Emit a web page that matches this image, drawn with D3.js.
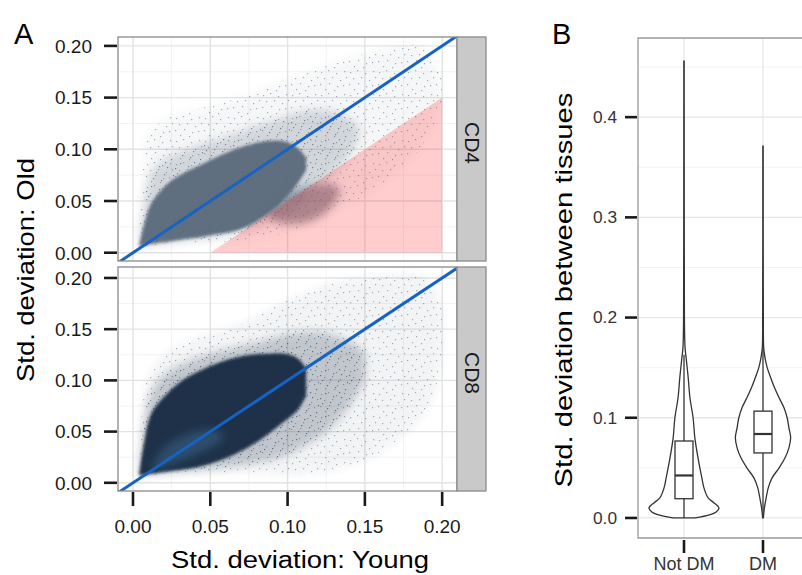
<!DOCTYPE html>
<html>
<head>
<meta charset="utf-8">
<script src="https://cdn.jsdelivr.net/npm/d3@7"></script>
<style>
  body { margin: 0; background: #fff; }
  svg { display: block; font-family: "Liberation Sans", Arial, sans-serif; }
</style>
</head>
<body>
<svg id="fig" width="802" height="575"></svg>
<script>
// ---- panel A: std. deviation, young vs old ----
const sdTicks = [0, 0.05, 0.1, 0.15, 0.2];
const sdMinor = [0.025, 0.075, 0.125, 0.175];
const facets = ["CD4", "CD8"];
const identityLine = [[-0.02, -0.02], [0.22, 0.22]];
const pinkZone = [[0.05, 0], [0.2, 0], [0.2, 0.15]];

// point clouds, as outlines: [young, old low, old high]
const cd4Halo = [[0.003,0.004,0.005],[0.006,0.005,0.06],[0.009,0.006,0.112],[0.02,0.007,0.128],[0.04,0.009,0.138],
  [0.07,0.012,0.15],[0.1,0.02,0.168],[0.13,0.04,0.183],[0.16,0.065,0.196],[0.185,0.1,0.2],[0.2,0.14,0.17]];
const cd4Mid = [[0.004,0.005,0.007],[0.007,0.006,0.045],[0.011,0.007,0.075],[0.02,0.009,0.09],[0.035,0.012,0.1],
  [0.055,0.016,0.11],[0.075,0.022,0.12],[0.095,0.035,0.13],[0.11,0.05,0.137],[0.125,0.07,0.138],[0.138,0.09,0.132],[0.146,0.11,0.122]];
const cd4Body = [[0.004,0.006,0.007],[0.0075,0.0075,0.029],[0.012,0.0085,0.048],[0.0226,0.0105,0.067],[0.033,0.013,0.077],
  [0.044,0.015,0.085],[0.055,0.018,0.093],[0.066,0.021,0.1],[0.0765,0.027,0.105],[0.087,0.037,0.108],[0.097,0.05,0.108],
  [0.106,0.066,0.102],[0.112,0.08,0.092]];
const cd4Cluster = [[0.086,0.036,0.038],[0.093,0.03,0.05],[0.103,0.028,0.06],[0.113,0.03,0.064],[0.122,0.036,0.066],
  [0.13,0.048,0.066],[0.134,0.058,0.06]];

const cd8Halo = [[0.003,0.005,0.007],[0.006,0.006,0.07],[0.009,0.007,0.1],[0.02,0.008,0.125],[0.04,0.009,0.14],
  [0.07,0.01,0.155],[0.1,0.008,0.178],[0.13,0.012,0.195],[0.16,0.03,0.202],[0.19,0.07,0.2],[0.2,0.12,0.17]];
const cd8Mid = [[0.004,0.006,0.009],[0.007,0.007,0.055],[0.011,0.008,0.085],[0.02,0.009,0.105],[0.035,0.011,0.118],
  [0.055,0.014,0.128],[0.075,0.018,0.135],[0.095,0.025,0.143],[0.11,0.035,0.147],[0.125,0.05,0.146],[0.14,0.075,0.138],[0.15,0.1,0.128]];
const cd8Body = [[0.004,0.007,0.008],[0.0075,0.0078,0.042],[0.012,0.0088,0.068],[0.0226,0.011,0.088],[0.033,0.013,0.101],
  [0.044,0.016,0.11],[0.055,0.021,0.117],[0.066,0.028,0.122],[0.076,0.036,0.125],[0.087,0.047,0.126],[0.098,0.06,0.126],
  [0.106,0.07,0.122],[0.112,0.085,0.112]];
const cd8Core = [[0.012,0.013,0.016],[0.02,0.016,0.034],[0.03,0.021,0.044],[0.04,0.027,0.05],[0.05,0.034,0.052],[0.058,0.042,0.05]];

// ---- panel B: violins ----
const groups = ["Not DM", "DM"];
const bTicks = [0, 0.1, 0.2, 0.3, 0.4];
const bMinor = [0.05, 0.15, 0.25, 0.35, 0.45];
// [value, relative density]
const notDmDensity = [[0,0.31],[0.003,0.72],[0.006,0.92],[0.01,1.0],[0.015,0.86],[0.02,0.69],[0.03,0.57],[0.04,0.51],
  [0.06,0.4],[0.08,0.31],[0.1,0.26],[0.12,0.17],[0.14,0.12],[0.16,0.06],[0.17,0.03],[0.2,0.012],[0.3,0.007],[0.456,0.005]];
const dmDensity = [[0,0.01],[0.01,0.04],[0.02,0.09],[0.03,0.15],[0.04,0.26],[0.05,0.46],[0.06,0.63],[0.07,0.74],
  [0.08,0.79],[0.09,0.74],[0.1,0.69],[0.11,0.6],[0.12,0.46],[0.13,0.33],[0.14,0.22],[0.15,0.12],[0.16,0.057],
  [0.17,0.02],[0.2,0.01],[0.371,0.005]];
// [lower whisker, q1, median, q3, upper whisker]
const notDmBox = [0.0, 0.0192, 0.0424, 0.0768, 0.163];
const dmBox = [0.003, 0.0649, 0.0838, 0.1066, 0.169];

const svg = d3.select("#fig");
const defs = svg.append("defs");
const ink = "#1a1a1a";

[["soft", 1.8], ["haze", 4]].forEach(([id, sd]) => {
  defs.append("filter").attr("id", id)
    .attr("x", "-20%").attr("y", "-20%").attr("width", "140%").attr("height", "140%")
    .append("feGaussianBlur").attr("stdDeviation", sd);
});

// speckle texture to suggest sparse points
const speckA = [[2,3],[9,1],[17,4],[25,2],[5,9],[13,8],[21,11],[27,8],[1,15],[10,14],[18,17],[24,16],[6,20],[15,21]];
const speckB = [[6,2],[14,5],[22,6],[3,12],[11,11],[19,13],[26,21],[8,17],[20,1],[28,14],[16,19],[1,7]];
[["speck4", "#5d6e80"], ["speck8", "#23405e"]].forEach(([id, col]) => {
  [[id, speckA], [id + "b", speckB]].forEach(([pid, pts]) => {
    const p = defs.append("pattern").attr("id", pid).attr("patternUnits", "userSpaceOnUse")
      .attr("width", 29).attr("height", 23);
    pts.forEach(([cx, cy]) =>
      p.append("rect").attr("x", cx).attr("y", cy).attr("width", 1.2).attr("height", 1.2).attr("fill", col));
  });
});

const x = d3.scaleLinear().domain([-0.0097, 0.2096]).range([118, 457]);
const panels = [
  { name: facets[0], y: d3.scaleLinear().domain([-0.008, 0.2086]).range([261, 37]),
    color: "#5a6b7c", speck: "speck4", speckOp: 0.55, layers: [cd4Halo, cd4Mid, cd4Body, cd4Cluster], core: null },
  { name: facets[1], y: d3.scaleLinear().domain([-0.008, 0.2107]).range([491, 267]),
    color: "#132b43", speck: "speck8", speckOp: 0.4, layers: [cd8Halo, cd8Mid, cd8Body, null], core: cd8Core }
];

panels.forEach((p, i) => {
  const [yb, yt] = p.y.range();
  const g = svg.append("g");
  const clipId = "clip" + i;
  defs.append("clipPath").attr("id", clipId)
    .append("rect").attr("x", 118).attr("y", yt).attr("width", 339).attr("height", yb - yt);

  g.append("rect").attr("x", 118).attr("y", yt).attr("width", 339).attr("height", yb - yt).attr("fill", "#fff");

  // grid
  const grid = g.append("g");
  sdMinor.forEach(v => {
    grid.append("line").attr("x1", x(v)).attr("x2", x(v)).attr("y1", yt).attr("y2", yb).attr("stroke", "#f3f3f3").attr("stroke-width", 1);
    grid.append("line").attr("x1", 118).attr("x2", 457).attr("y1", p.y(v)).attr("y2", p.y(v)).attr("stroke", "#f3f3f3").attr("stroke-width", 1);
  });
  sdTicks.forEach(v => {
    grid.append("line").attr("x1", x(v)).attr("x2", x(v)).attr("y1", yt).attr("y2", yb).attr("stroke", "#e3e3e3").attr("stroke-width", 1.4);
    grid.append("line").attr("x1", 118).attr("x2", 457).attr("y1", p.y(v)).attr("y2", p.y(v)).attr("stroke", "#e3e3e3").attr("stroke-width", 1.4);
  });

  const band = d3.area()
    .x(d => x(d[0])).y0(d => p.y(d[1])).y1(d => p.y(d[2]))
    .curve(d3.curveCatmullRom);

  const cloud = g.append("g").attr("clip-path", `url(#${clipId})`);
  const [halo, mid, body, cluster] = p.layers;
  cloud.append("path").attr("d", band(halo)).attr("fill", p.color).attr("opacity", 0.05).attr("filter", "url(#haze)");
  cloud.append("path").attr("d", band(halo)).attr("fill", `url(#${p.speck})`).attr("opacity", p.speckOp);
  cloud.append("path").attr("d", band(mid)).attr("fill", p.color).attr("opacity", 0.22).attr("filter", "url(#haze)");
  cloud.append("path").attr("d", band(mid)).attr("fill", `url(#${p.speck}b)`).attr("opacity", p.speckOp + 0.25);
  cloud.append("path").attr("d", band(body)).attr("fill", p.color).attr("opacity", 0.95).attr("filter", "url(#soft)");
  if (cluster) {
    cloud.append("path").attr("d", band(cluster)).attr("fill", p.color).attr("opacity", 0.6).attr("filter", "url(#haze)");
  }
  if (p.core) {
    cloud.append("path").attr("d", band(p.core)).attr("fill", "#4d84b0").attr("opacity", 0.35).attr("filter", "url(#haze)");
  }

  if (i === 0) {
    cloud.append("path")
      .attr("d", d3.line().x(d => x(d[0])).y(d => p.y(d[1]))(pinkZone) + "Z")
      .attr("fill", "#ff1a1a").attr("opacity", 0.22);
  }

  cloud.append("path")
    .attr("d", d3.line().x(d => x(d[0])).y(d => p.y(d[1]))(identityLine))
    .attr("stroke", "#1763c2").attr("stroke-width", 3).attr("fill", "none");

  g.append("rect").attr("x", 118).attr("y", yt).attr("width", 339).attr("height", yb - yt)
    .attr("fill", "none").attr("stroke", "#8a8a8a").attr("stroke-width", 1.3);

  // facet strip
  g.append("rect").attr("x", 457).attr("y", yt).attr("width", 29).attr("height", yb - yt)
    .attr("fill", "#c9c9c9").attr("stroke", "#8a8a8a").attr("stroke-width", 1.3);
  const sy = (yt + yb) / 2 - 6;
  g.append("text").attr("transform", `translate(465,${sy}) rotate(90)`)
    .attr("text-anchor", "middle").attr("font-size", 21).attr("fill", ink).text(p.name);

  // y axis
  const ax = g.append("g");
  sdTicks.forEach(v => {
    ax.append("line").attr("x1", 104).attr("x2", 117).attr("y1", p.y(v)).attr("y2", p.y(v))
      .attr("stroke", ink).attr("stroke-width", 2.6);
    ax.append("text").attr("x", 92).attr("y", p.y(v)).attr("dy", "0.36em")
      .attr("text-anchor", "end").attr("font-size", 19).attr("fill", ink).text(d3.format(".2f")(v));
  });
});

// x axis, panel A
sdTicks.forEach(v => {
  svg.append("line").attr("x1", x(v)).attr("x2", x(v)).attr("y1", 492).attr("y2", 506)
    .attr("stroke", ink).attr("stroke-width", 2.6);
  svg.append("text").attr("x", x(v)).attr("y", 533).attr("text-anchor", "middle")
    .attr("font-size", 19).attr("fill", ink).text(d3.format(".2f")(v));
});
svg.append("text").attr("x", 300).attr("y", 568).attr("text-anchor", "middle")
  .attr("font-size", 23).attr("fill", "#000").attr("textLength", 258).attr("lengthAdjust", "spacingAndGlyphs")
  .text("Std. deviation: Young");
svg.append("text").attr("transform", "translate(34,270) rotate(-90)").attr("text-anchor", "middle")
  .attr("font-size", 24).attr("fill", "#000").attr("textLength", 224).attr("lengthAdjust", "spacingAndGlyphs")
  .text("Std. deviation: Old");
svg.append("text").attr("x", 14).attr("y", 44).attr("font-size", 29).attr("fill", "#000").text("A");

// ---- panel B ----
const yB = d3.scaleLinear().domain([-0.02, 0.479]).range([538, 38]);
const xB = d3.scalePoint().domain(groups).range([684, 763]);
const wB = d3.scaleLinear().domain([0, 1]).range([0, 35]);
const gB = svg.append("g");
gB.append("rect").attr("x", 638).attr("y", 38).attr("width", 200).attr("height", 500).attr("fill", "#fff");
bMinor.forEach(v => gB.append("line").attr("x1", 638).attr("x2", 802).attr("y1", yB(v)).attr("y2", yB(v))
  .attr("stroke", "#f3f3f3").attr("stroke-width", 1));
bTicks.forEach(v => gB.append("line").attr("x1", 638).attr("x2", 802).attr("y1", yB(v)).attr("y2", yB(v))
  .attr("stroke", "#e6e6e6").attr("stroke-width", 1.3));
groups.forEach(gname => gB.append("line").attr("x1", xB(gname)).attr("x2", xB(gname)).attr("y1", 38).attr("y2", 538)
  .attr("stroke", "#e6e6e6").attr("stroke-width", 1.3));

const violins = [[groups[0], notDmDensity, notDmBox], [groups[1], dmDensity, dmBox]];
violins.forEach(([name, dens, box]) => {
  const cx = xB(name);
  const area = d3.area()
    .y(d => yB(d[0])).x0(d => cx - wB(d[1])).x1(d => cx + wB(d[1]))
    .curve(d3.curveCatmullRom);
  gB.append("path").attr("d", area(dens)).attr("fill", "#fff").attr("stroke", "#333").attr("stroke-width", 1.3);
  const [lo, q1, med, q3, hi] = box;
  gB.append("line").attr("x1", cx).attr("x2", cx).attr("y1", yB(lo)).attr("y2", yB(q1)).attr("stroke", "#333").attr("stroke-width", 1.3);
  gB.append("line").attr("x1", cx).attr("x2", cx).attr("y1", yB(q3)).attr("y2", yB(hi)).attr("stroke", "#333").attr("stroke-width", 1.3);
  gB.append("rect").attr("x", cx - 9).attr("width", 18).attr("y", yB(q3)).attr("height", yB(q1) - yB(q3))
    .attr("fill", "#fff").attr("stroke", "#333").attr("stroke-width", 1.3);
  gB.append("line").attr("x1", cx - 9).attr("x2", cx + 9).attr("y1", yB(med)).attr("y2", yB(med))
    .attr("stroke", "#333").attr("stroke-width", 2.2);
});

gB.append("path").attr("d", "M802,38H638V538H802").attr("fill", "none").attr("stroke", "#9a9a9a").attr("stroke-width", 1.3);

bTicks.forEach(v => {
  gB.append("line").attr("x1", 625).attr("x2", 637).attr("y1", yB(v)).attr("y2", yB(v)).attr("stroke", ink).attr("stroke-width", 2.6);
  gB.append("text").attr("x", 617).attr("y", yB(v)).attr("dy", "0.36em").attr("text-anchor", "end")
    .attr("font-size", 16).attr("fill", "#333").attr("textLength", 24).attr("lengthAdjust", "spacingAndGlyphs")
    .text(d3.format(".1f")(v));
});
groups.forEach(gname => {
  gB.append("line").attr("x1", xB(gname)).attr("x2", xB(gname)).attr("y1", 540).attr("y2", 553)
    .attr("stroke", ink).attr("stroke-width", 2.6);
  gB.append("text").attr("x", xB(gname)).attr("y", 570).attr("text-anchor", "middle")
    .attr("font-size", 18).attr("fill", "#333").text(gname);
});
svg.append("text").attr("transform", "translate(572,290) rotate(-90)").attr("text-anchor", "middle")
  .attr("font-size", 24).attr("fill", "#000").attr("textLength", 395).attr("lengthAdjust", "spacingAndGlyphs")
  .text("Std. deviation between tissues");
svg.append("text").attr("x", 552).attr("y", 44).attr("font-size", 29).attr("fill", "#000").text("B");
</script>
</body>
</html>
